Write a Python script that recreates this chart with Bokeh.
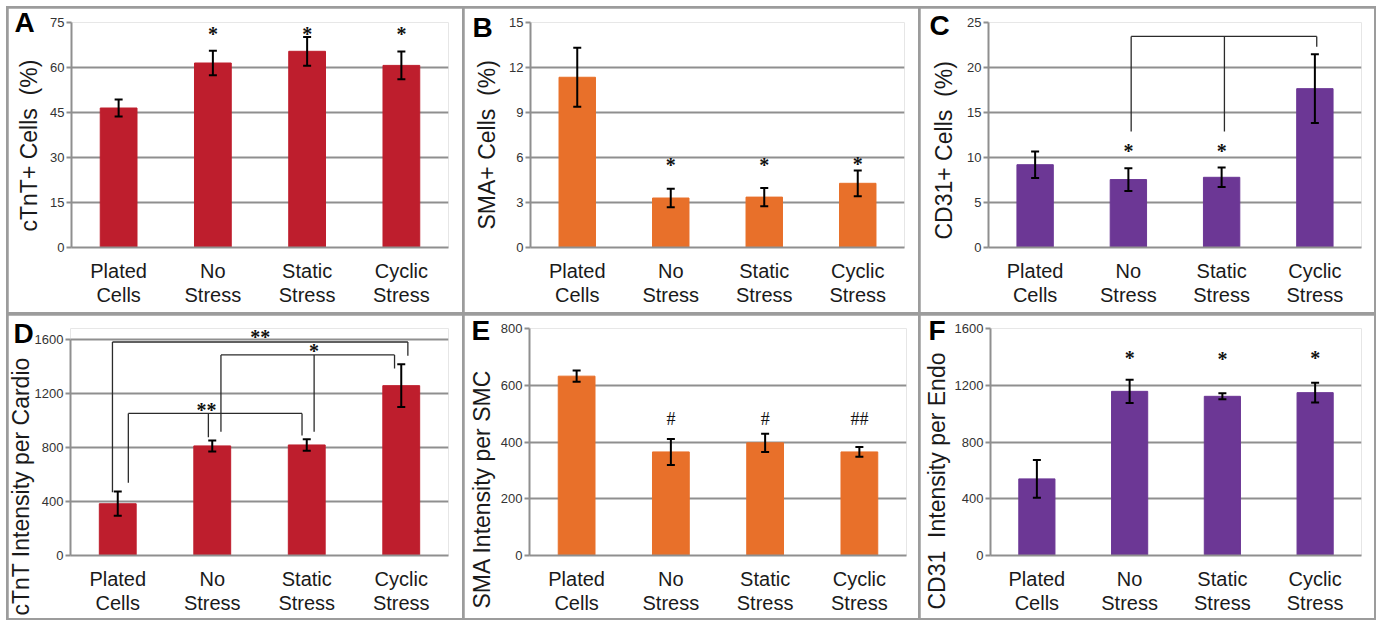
import math
from bokeh.plotting import figure
from bokeh.models import (Range1d, FactorRange, SingleIntervalTicker, Whisker, TeeHead,
                          ColumnDataSource, LabelSet, Title)
from bokeh.layouts import row, column
from bokeh.embed import file_html
from bokeh.resources import INLINE

categories = ["Plated\nCells", "No\nStress", "Static\nStress", "Cyclic\nStress"]

# ---- Panel A: cTnT+ cells (%)
a_values = [46.5, 61.5, 65.4, 60.7]
a_errors = [2.8, 4.1, 4.8, 4.6]
a_mark_cats = ["No\nStress", "Static\nStress", "Cyclic\nStress"]
a_mark_y = [71.4, 71.4, 71.4]
a_mark_text = ["*", "*", "*"]

# ---- Panel B: SMA+ cells (%)
b_values = [11.35, 3.3, 3.36, 4.28]
b_errors = [1.97, 0.61, 0.61, 0.86]
b_mark_cats = ["No\nStress", "Static\nStress", "Cyclic\nStress"]
b_mark_y = [5.6, 5.6, 5.65]
b_mark_text = ["*", "*", "*"]

# ---- Panel C: CD31+ cells (%)
c_values = [9.2, 7.55, 7.8, 17.65]
c_errors = [1.48, 1.26, 1.08, 3.82]
c_mark_cats = ["No\nStress", "Static\nStress"]
c_mark_y = [10.8, 10.8]
c_mark_text = ["*", "*"]
c_br_cats = ["No\nStress", "Static\nStress", "Cyclic\nStress"]
c_br_shift = [0.03, 0.03, 0.02]
c_br_ends = [12.9, 12.9, 22.3]
c_br_y = 23.45

# ---- Panel D: cTnT intensity per cardio
d_values = [384, 813, 820, 1260]
d_errors = [90, 41, 42, 158]
d_br1_cats = ["Plated\nCells", "Cyclic\nStress"]
d_br1_shift = [-0.056, 0.07]
d_br1_ends = [469, 1481]
d_br1_y = 1584
d_br1_text = "**"
d_br1_text_y = 1628
d_br2_cats = ["No\nStress", "Static\nStress", "Cyclic\nStress"]
d_br2_shift = [0.092, 0.078, -0.071]
d_br2_ends = [918, 918, 1387]
d_br2_y = 1488
d_br2_text = "*"
d_br2_text_y = 1523
d_br3_cats = ["Plated\nCells", "No\nStress", "Static\nStress"]
d_br3_shift = [0.112, -0.041, -0.05]
d_br3_ends = [539, 878, 890]
d_br3_y = 1054
d_br3_text = "**"
d_br3_text_y = 1089

# ---- Panel E: SMA intensity per SMC
e_values = [632, 365, 397, 365]
e_errors = [20, 46, 32, 17]
e_mark_cats = ["No\nStress", "Static\nStress", "Cyclic\nStress"]
e_mark_y = [480, 480, 480]
e_mark_text = ["#", "#", "##"]

# ---- Panel F: CD31 intensity per endo
f_values = [540, 1157, 1122, 1148]
f_errors = [133, 82, 21, 70]
f_mark_cats = ["No\nStress", "Static\nStress", "Cyclic\nStress"]
f_mark_y = [1398, 1395, 1398]
f_mark_text = ["*", "*", "*"]

RED = "#BE1E2D"
ORANGE = "#E8702A"
PURPLE = "#6C3795"
GRID = "#8f8f8f"
FONT = "Liberation Sans"
XAXIS_H = 61  # approx. pixel height of the two-line category axis


def pos(cat, shift=0.0):
    return categories.index(cat) + 0.5 + shift


def make_panel(letter, ylabel, values, errors, color, ymax, step, height,
               borders, ylab_offset, ylab_standoff, letter_xy, headroom=0.0):
    left, right, top, bottom = borders
    p = figure(width=454, height=height, x_range=FactorRange(*categories),
               y_range=Range1d(0, ymax + headroom), output_backend="svg",
               toolbar_location=None, tools="",
               min_border_left=left, min_border_right=right,
               min_border_top=top, min_border_bottom=bottom)
    p.background_fill_color = "white"
    p.border_fill_color = "white"
    p.outline_line_color = None
    p.xgrid.visible = False
    p.ygrid.grid_line_color = GRID
    p.ygrid.grid_line_width = 2
    p.yaxis.ticker = SingleIntervalTicker(interval=step, num_minor_ticks=0)
    p.yaxis.bounds = (0, ymax)
    p.yaxis.axis_line_color = GRID
    p.yaxis.axis_line_width = 2
    p.yaxis.major_tick_line_color = GRID
    p.yaxis.major_tick_line_width = 2
    p.yaxis.major_tick_out = 5
    p.yaxis.major_tick_in = 0
    p.yaxis.minor_tick_line_color = None
    p.yaxis.major_label_standoff = 2
    p.yaxis.major_label_text_font = FONT
    p.yaxis.major_label_text_font_size = "13px"
    p.yaxis.major_label_text_color = "#333333"
    p.xaxis.axis_line_color = GRID
    p.xaxis.axis_line_width = 2
    p.xaxis.major_tick_line_color = None
    p.xaxis.major_tick_out = 0
    p.xaxis.major_tick_in = 0
    p.xaxis.minor_tick_line_color = None
    p.xaxis.major_label_standoff = 12
    p.xaxis.major_label_text_font = FONT
    p.xaxis.major_label_text_font_size = "20px"
    p.xaxis.major_label_text_color = "#1a1a1a"
    p.xaxis.major_label_text_line_height = 1.1

    src = ColumnDataSource(dict(
        x=categories, top=values,
        upper=[v + e for v, e in zip(values, errors)],
        lower=[v - e for v, e in zip(values, errors)]))
    p.vbar(x="x", top="top", width=0.39, source=src, fill_color=color,
           line_color=color)
    w = Whisker(source=src, base="x", upper="upper", lower="lower",
                dimension="height", line_color="black", line_width=2,
                upper_head=TeeHead(size=8, line_color="black", line_width=2),
                lower_head=TeeHead(size=8, line_color="black", line_width=2),
                level="annotation")
    p.add_layout(w)

    # y-axis label, drawn as a side title so it can run past the frame
    p.add_layout(Title(text=ylabel, align="left", offset=ylab_offset,
                       standoff=ylab_standoff, text_font=FONT,
                       text_font_size="23px", text_font_style="normal",
                       text_color="#1a1a1a", vertical_align="bottom"), "left")
    # panel letter, placed in the top-left corner of the panel
    frame_bottom = height - bottom
    cap_top = letter_xy[1]
    letter_standoff = 2 * ((cap_top - 5.3) - frame_bottom - XAXIS_H)
    p.add_layout(Title(text=letter, align="left", offset=letter_xy[0] - left,
                       standoff=letter_standoff, text_font=FONT,
                       text_font_size="28px", text_font_style="bold",
                       text_color="black", vertical_align="top"), "below")
    return p


def add_marks(p, cats, ys, texts, shifts=None):
    if shifts is None:
        shifts = [0.0] * len(cats)
    star = [t for t in texts if "*" in t]
    src = ColumnDataSource(dict(x=[pos(c, s) for c, s in zip(cats, shifts)],
                                y=ys, t=texts))
    if star:
        ls = LabelSet(x="x", y="y", text="t", source=src, text_align="center",
                      text_baseline="middle", text_font=FONT,
                      text_font_size="20px", text_font_style="bold",
                      text_color="#111111", y_offset=-1)
    else:
        ls = LabelSet(x="x", y="y", text="t", source=src, text_align="center",
                      text_baseline="middle", text_font=FONT,
                      text_font_size="18px", text_color="#111111")
    p.add_layout(ls)


def add_bracket(p, cats, shifts, ends, ybar):
    xs = [pos(c, s) for c, s in zip(cats, shifts)]
    x0 = [min(xs)] + xs
    x1 = [max(xs)] + xs
    y0 = [ybar] + [ybar] * len(xs)
    y1 = [ybar] + list(ends)
    p.segment(x0=x0, y0=y0, x1=x1, y1=y1, line_color="#2b2b2b",
              line_width=1.3)


pA = make_panel("A", "cTnT+ Cells\u00a0 (%)", a_values, a_errors, RED, 75, 15,
                304, (61, 14, 14, 64), 16, 11, (4, 5))
add_marks(pA, a_mark_cats, a_mark_y, a_mark_text)

pB = make_panel("B", "SMA+ Cells\u00a0 (%)", b_values, b_errors, ORANGE, 15, 3,
                304, (64, 14, 14, 65), 18, 14, (6, 9))
add_marks(pB, b_mark_cats, b_mark_y, b_mark_text)

pC = make_panel("C", "CD31+ Cells\u00a0 (%)", c_values, c_errors, PURPLE, 25, 5,
                304, (66, 13, 14, 65), 8, 16, (7, 7))
add_bracket(pC, c_br_cats, c_br_shift, c_br_ends, c_br_y)
add_marks(pC, c_mark_cats, c_mark_y, c_mark_text)

pD = make_panel("D", "cTnT Intensity per Cardio", d_values, d_errors, RED,
                1600, 400, 303, (59, 14, 0, 63), -60, -5, (2, 8),
                headroom=84)
add_bracket(pD, d_br1_cats, d_br1_shift, d_br1_ends, d_br1_y)
add_bracket(pD, d_br2_cats, d_br2_shift, d_br2_ends, d_br2_y)
add_bracket(pD, d_br3_cats, d_br3_shift, d_br3_ends, d_br3_y)
mid1 = (pos(d_br1_cats[0], d_br1_shift[0]) + pos(d_br1_cats[-1], d_br1_shift[-1])) / 2
add_marks(pD, [d_br1_cats[0], d_br2_cats[1], d_br3_cats[1]],
          [d_br1_text_y, d_br2_text_y, d_br3_text_y],
          [d_br1_text, d_br2_text, d_br3_text],
          [mid1 - pos(d_br1_cats[0]), d_br2_shift[1], -0.06])

pE = make_panel("E", "SMA Intensity per SMC", e_values, e_errors, ORANGE,
                800, 200, 303, (62, 12, 13, 61), -53, 5, (4, 7))
add_marks(pE, e_mark_cats, e_mark_y, e_mark_text)

pF = make_panel("F", "CD31\u00a0 Intensity per Endo", f_values, f_errors, PURPLE,
                1600, 400, 303, (67, 13, 13, 60), -54, 3, (5, 8))
add_marks(pF, f_mark_cats, f_mark_y, f_mark_text)

top_row = row(pA, pB, pC, spacing=2)
bottom_row = row(pD, pE, pF, spacing=2)
layout = column(top_row, bottom_row, spacing=3, margin=(6, 0, 0, 6),
                styles={"background-color": "#9c9c9c", "padding": "2px"})

open("out.html", "w").write(file_html(layout, INLINE))
